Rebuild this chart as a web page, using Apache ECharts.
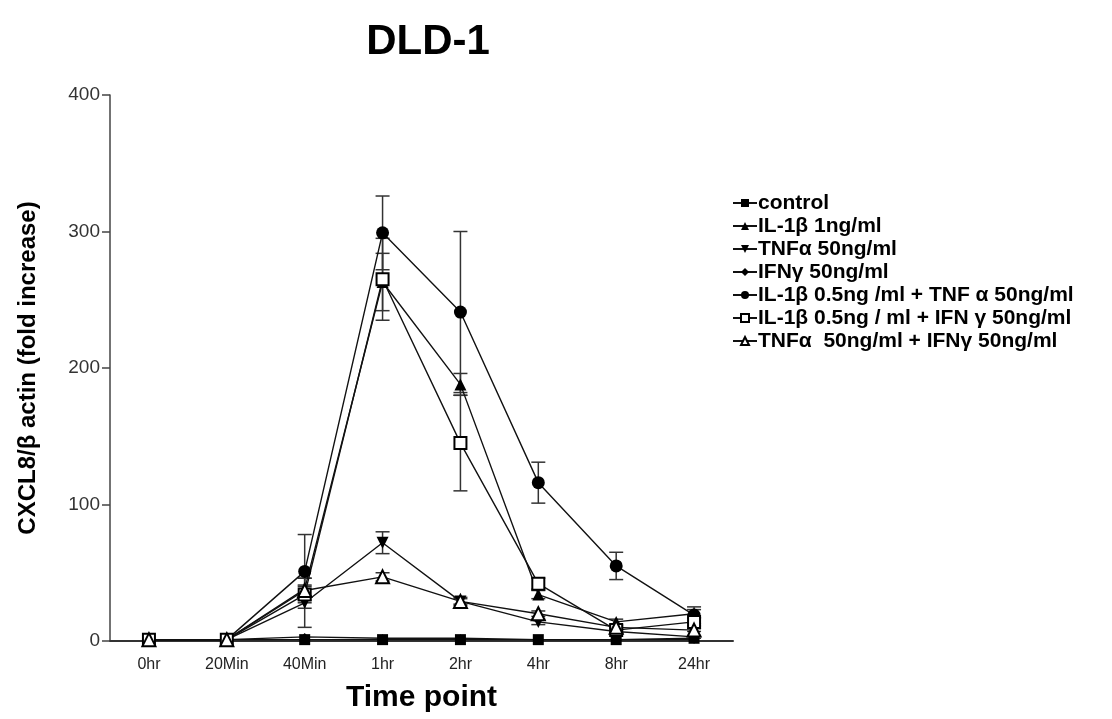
<!DOCTYPE html>
<html>
<head>
<meta charset="utf-8">
<script src="https://cdn.jsdelivr.net/npm/echarts@6/dist/echarts.min.js"></script>
<style>
  html, body { margin: 0; padding: 0; background: #fff; }
  #chart { width: 1112px; height: 719px; }
</style>
</head>
<body>
<div id="chart"></div>
<script>
var timePoints = ['0hr', '20Min', '40Min', '1hr', '2hr', '4hr', '8hr', '24hr'];
var yTicks = [0, 100, 200, 300, 400];

var seriesNames = [
    'control',
    'IL-1β 1ng/ml',
    'TNFα 50ng/ml',
    'IFNγ 50ng/ml',
    'IL-1β 0.5ng /ml + TNF α 50ng/ml',
    'IL-1β 0.5ng / ml + IFN γ 50ng/ml',
    'TNFα  50ng/ml + IFNγ 50ng/ml'
];

// mean values
var control    = [1, 1, 1, 1, 1, 1, 1, 2];
var il1        = [1, 1, 38, 263, 188, 34, 14, 20];
var tnf        = [1, 1, 28, 72, 29, 14, 7, 3];
var ifn        = [1, 1, 3, 2, 2, 1, 1, 1];
var il1Tnf     = [1, 1, 51, 299, 241, 116, 55, 19];
var il1Ifn     = [1, 1, 34, 265, 145, 42, 8, 14];
var tnfIfn     = [1, 1, 37, 47, 29, 20, 10, 8];

// error (SEM)
var controlErr = [0, 0, 0, 0, 0, 0, 0, 0];
var il1Err     = [0, 0, 8, 21, 8, 3, 2, 3];
var tnfErr     = [0, 0, 18, 8, 3, 2, 1, 1];
var ifnErr     = [0, 0, 0, 0, 0, 0, 0, 0];
var il1TnfErr  = [0, 0, 27, 27, 59, 15, 10, 6];
var il1IfnErr  = [0, 0, 6, 30, 35, 4, 2, 3];
var tnfIfnErr  = [0, 0, 4, 3, 2, 2, 1, 1];

var means = [control, il1, tnf, ifn, il1Tnf, il1Ifn, tnfIfn];
var errs = [controlErr, il1Err, tnfErr, ifnErr, il1TnfErr, il1IfnErr, tnfIfnErr];
var symbols = ['rect', 'triangle', 'triangle', 'diamond', 'circle', 'emptyRect', 'emptyTriangle'];
var symbolSizes = [11, 12, 12, 8, 13, 12, 13];
var rotates = [0, 0, 180, 0, 0, 0, 0];

var myChart = echarts.init(document.getElementById('chart'));

var series = [];
means.forEach(function (m, i) {
    var errData = [];
    m.forEach(function (v, j) {
        if (errs[i][j] > 0) errData.push([j, v - errs[i][j], v + errs[i][j]]);
    });
    series.push({
        type: 'custom',
        name: seriesNames[i] + ' err',
        data: errData,
        z: 1,
        silent: true,
        renderItem: function (params, api) {
            var x = api.value(0);
            var lo = api.coord([x, api.value(1)]);
            var hi = api.coord([x, api.value(2)]);
            var w = 7;
            var style = {stroke: '#333', lineWidth: 1.5, fill: null};
            return {
                type: 'group',
                children: [
                    {type: 'line', shape: {x1: lo[0], y1: lo[1], x2: hi[0], y2: hi[1]}, style: style},
                    {type: 'line', shape: {x1: lo[0] - w, y1: lo[1], x2: lo[0] + w, y2: lo[1]}, style: style},
                    {type: 'line', shape: {x1: hi[0] - w, y1: hi[1], x2: hi[0] + w, y2: hi[1]}, style: style}
                ]
            };
        },
        encode: {x: 0, y: [1, 2]}
    });
});
means.forEach(function (m, i) {
    series.push({
        type: 'line',
        name: seriesNames[i],
        data: m,
        symbol: symbols[i],
        symbolSize: symbolSizes[i],
        symbolRotate: rotates[i],
        showAllSymbol: true,
        z: 3,
        lineStyle: {color: '#111', width: 1.4},
        itemStyle: {color: '#000', borderColor: '#000', borderWidth: symbols[i].indexOf('empty') === 0 ? 1.5 : 0}
    });
});

myChart.setOption({
    animation: false,
    backgroundColor: '#fff',
    title: {
        text: 'DLD-1',
        left: 423,
        top: 16,
        textAlign: 'center',
        textStyle: {fontFamily: 'Liberation Sans', fontSize: 42, fontWeight: 'bold', color: '#000'}
    },
    legend: {
        data: seriesNames,
        orient: 'vertical',
        left: 727,
        top: 187,
        itemGap: 1,
        itemWidth: 24,
        itemHeight: 10,
        textStyle: {fontFamily: 'Liberation Sans', fontSize: 21, lineHeight: 22, fontWeight: 'bold', color: '#000', padding: [0, 0, 0, -4]}
    },
    grid: {left: 110, right: 379, top: 95, bottom: 78, containLabel: false, outerBoundsMode: 'none'},
    xAxis: {
        type: 'category',
        data: timePoints,
        boundaryGap: true,
        name: 'Time point',
        nameLocation: 'middle',
        nameGap: 42,
        nameTextStyle: {fontFamily: 'Liberation Sans', fontSize: 30, fontWeight: 'bold', color: '#000'},
        axisLine: {lineStyle: {color: '#333', width: 2}},
        axisTick: {show: false},
        axisLabel: {fontFamily: 'Liberation Sans', fontSize: 16, color: '#222', margin: 16}
    },
    yAxis: {
        type: 'value',
        min: 0,
        max: 400,
        interval: 100,
        name: 'CXCL8/β actin (fold increase)',
        nameLocation: 'middle',
        nameGap: 70,
        nameTextStyle: {fontFamily: 'Liberation Sans', fontSize: 24, fontWeight: 'bold', color: '#000'},
        axisLine: {show: true, lineStyle: {color: '#444', width: 1.5}},
        axisTick: {show: true, inside: false, length: 8, lineStyle: {color: '#444', width: 1.5}},
        axisLabel: {
            fontFamily: 'Liberation Sans', fontSize: 19, color: '#333', margin: 10,
            formatter: function (v) { return yTicks.indexOf(v) >= 0 ? String(v) : ''; }
        },
        splitLine: {show: false}
    },
    series: series
});
</script>
</body>
</html>
